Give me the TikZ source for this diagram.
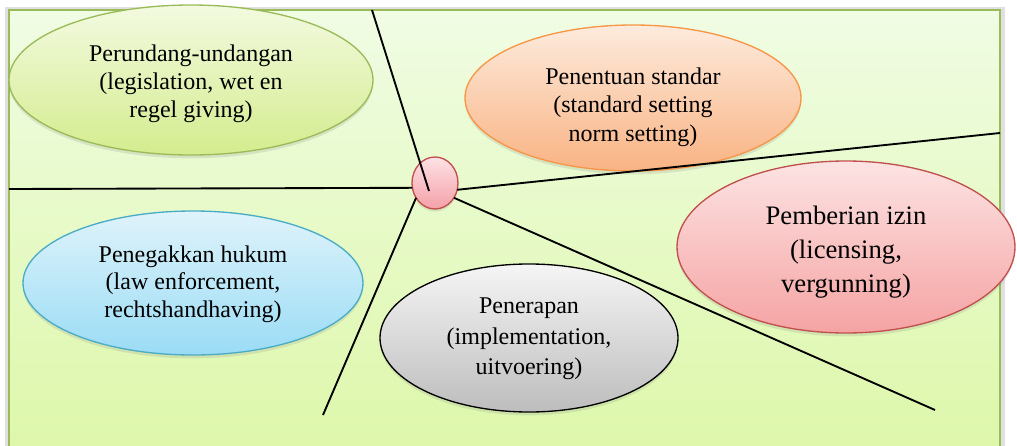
\documentclass[tikz,border=0pt]{standalone}
\usepackage{fontspec}
\setmainfont{Liberation Serif}
\usetikzlibrary{shapes.geometric,shadows}
\definecolor{bgtop}{HTML}{F0FCE4}
\definecolor{bgbot}{HTML}{DCF7A6}
\definecolor{framegreen}{HTML}{9BBB59}
\definecolor{legtop}{HTML}{F3FAE0}
\definecolor{legbot}{HTML}{D4EC8E}
\definecolor{stdtop}{HTML}{FDEBDD}
\definecolor{stdbot}{HTML}{F9B383}
\definecolor{stdline}{HTML}{F79646}
\definecolor{lictop}{HTML}{FDE3E3}
\definecolor{licbot}{HTML}{F5A3A3}
\definecolor{redline}{HTML}{C0504D}
\definecolor{enftop}{HTML}{DFF3FB}
\definecolor{enfbot}{HTML}{9ADCF5}
\definecolor{enfline}{HTML}{4BACC6}
\definecolor{impltop}{HTML}{F5F5F5}
\definecolor{implbot}{HTML}{BDBDBD}
\definecolor{ctop}{HTML}{FDE2E5}
\definecolor{cbot}{HTML}{F4A0A8}
\begin{document}
\begin{tikzpicture}[x=0.75pt,y=-0.75pt,
  oval/.style={ellipse, line width=1pt, inner sep=0pt, outer sep=0pt,
    drop shadow={opacity=0.18, shadow xshift=0pt, shadow yshift=-2.5pt}},
  txt/.style={align=center, inner sep=0pt, font=\fontsize{18pt}{21pt}\selectfont},
  conn/.style={line width=1.4pt, black}]
\useasboundingbox (0,0) rectangle (1017,446);
% frame
\begin{scope}
\clip (0,0) rectangle (1017,446);
\fill[black!12] (5,7) rectangle (1005,480);
\draw[framegreen, line width=1.3pt, top color=bgtop, bottom color=bgbot] (9,10) rectangle (1000,480);
\end{scope}
% ellipses
\node[oval, draw=framegreen, top color=legtop, bottom color=legbot,
  minimum width=273pt, minimum height=112.5pt] (leg) at (191,80) {};
\node[oval, draw=stdline, top color=stdtop, bottom color=stdbot,
  minimum width=252pt, minimum height=109.5pt] (std) at (633,98) {};
\node[oval, draw=redline, top color=lictop, bottom color=licbot,
  minimum width=253.5pt, minimum height=129pt] (lic) at (846,247) {};
\node[oval, draw=enfline, top color=enftop, bottom color=enfbot,
  minimum width=255pt, minimum height=108pt] (enf) at (193,283) {};
\node[oval, draw=black, top color=impltop, bottom color=implbot,
  minimum width=223.5pt, minimum height=111pt] (impl) at (529,338) {};
% texts
\node[txt] (legt) at (191,84) {Perundang-undangan\\(legislation, wet en\\regel giving)};
\node[txt, font=\fontsize{18pt}{21.5pt}\selectfont] (stdt) at (633,107) {Penentuan standar\\(standard setting\\norm setting)};
\node[txt, font=\fontsize{20pt}{25.5pt}\selectfont] (lict) at (846,252) {Pemberian izin\\(licensing,\\vergunning)};
\node[txt, font=\fontsize{18pt}{20.6pt}\selectfont] (enft) at (193,284) {Penegakkan hukum\\(law enforcement,\\rechtshandhaving)};
\node[txt, font=\fontsize{18pt}{23pt}\selectfont] (implt) at (529,339) {Penerapan\\(implementation,\\uitvoering)};
% centre
\node[ellipse, draw=redline, line width=1pt, inner sep=0pt, outer sep=0pt,
  top color=ctop, bottom color=cbot, minimum width=34.5pt, minimum height=39pt,
  drop shadow={opacity=0.18, shadow xshift=0pt, shadow yshift=-2pt}] (c) at (435,183) {};
% connector ends
\coordinate (ttop) at (372,10);
\coordinate (tin) at (429,191);
\coordinate (lend) at (9,189);
\coordinate (rend) at (1000,133);
\coordinate (brend) at (935,410);
\coordinate (blend) at (323,415);
\draw[conn] (ttop) -- (tin);
\draw[conn] (lend) -- (c.192);
\draw[conn] (c.-17) -- (rend);
\draw[conn] (c.-38) -- (brend);
\draw[conn] (c.218) -- (blend);
\end{tikzpicture}
\end{document}
